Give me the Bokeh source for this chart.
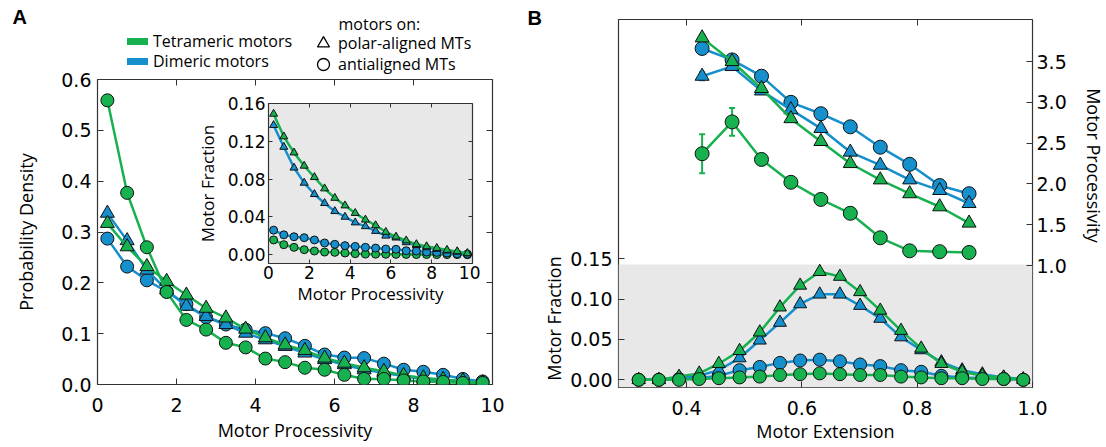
from bokeh.plotting import figure
from bokeh.models import (Range1d, LinearAxis, FixedTicker, PrintfTickFormatter, BoxAnnotation,
                          Label, Legend, LegendItem, Whisker, ColumnDataSource, TeeHead)
from bokeh.embed import file_html
from bokeh.resources import INLINE

GREEN = "#17B150"
BLUE = "#1590CC"
EDGE = "#111111"
FRAME = "#333333"

# ---------------- Panel A data ----------------
proc_x = [0.25, 0.75, 1.25, 1.75, 2.25, 2.75, 3.25, 3.75, 4.25, 4.75,
          5.25, 5.75, 6.25, 6.75, 7.25, 7.75, 8.25, 8.75, 9.25, 9.75]
dens_tet_polar = [0.317, 0.271, 0.232, 0.203, 0.176, 0.150, 0.131, 0.109, 0.092, 0.078,
                  0.067, 0.052, 0.042, 0.033, 0.026, 0.018, 0.013, 0.010, 0.007, 0.003]
dens_tet_anti = [0.559, 0.377, 0.270, 0.182, 0.127, 0.108, 0.082, 0.073, 0.051, 0.044,
                 0.033, 0.029, 0.019, 0.011, 0.011, 0.008, 0.006, 0.005, 0.003, 0.003]
dens_dim_polar = [0.337, 0.283, 0.225, 0.186, 0.154, 0.134, 0.118, 0.101, 0.088, 0.075,
                  0.062, 0.049, 0.039, 0.029, 0.023, 0.016, 0.011, 0.008, 0.006, 0.003]
dens_dim_anti = [0.287, 0.232, 0.205, 0.183, 0.158, 0.132, 0.118, 0.108, 0.101, 0.091,
                 0.076, 0.059, 0.053, 0.052, 0.041, 0.029, 0.025, 0.019, 0.011, 0.006]

# inset (motor fraction vs processivity)
frac_tet_polar = [0.149, 0.125, 0.108, 0.094, 0.082, 0.070, 0.060, 0.052, 0.044, 0.037,
                  0.031, 0.024, 0.019, 0.015, 0.011, 0.0088, 0.007, 0.005, 0.0035, 0.0014]
frac_dim_polar = [0.137, 0.114, 0.092, 0.076, 0.064, 0.0545, 0.046, 0.040, 0.034, 0.030,
                  0.025, 0.020, 0.018, 0.013, 0.010, 0.0077, 0.006, 0.0042, 0.003, 0.0014]
frac_dim_anti = [0.026, 0.021, 0.019, 0.018, 0.0156, 0.0124, 0.011, 0.0096, 0.0088, 0.0078,
                 0.007, 0.006, 0.0057, 0.0042, 0.0039, 0.0028, 0.0025, 0.0018, 0.001, 0.0007]
frac_tet_anti = [0.0156, 0.0106, 0.0078, 0.0053, 0.0039, 0.0028, 0.0025, 0.0018, 0.0011, 0.0007,
                 0.0006, 0.0005, 0.0004, 0.0003, 0.0002, 0.0002, 0.0001, 0.0001, 0.0001, 0.0]

# ---------------- Panel B data ----------------
ext_top = [0.427, 0.479, 0.530, 0.581, 0.633, 0.684, 0.736, 0.787, 0.839, 0.890]
proc_dim_anti = [3.66, 3.52, 3.32, 3.00, 2.86, 2.70, 2.45, 2.24, 1.98, 1.88]
proc_dim_polar = [3.32, 3.44, 3.14, 2.91, 2.68, 2.39, 2.23, 2.05, 1.92, 1.76]
proc_tet_polar = [3.79, 3.50, 3.17, 2.80, 2.52, 2.25, 2.05, 1.88, 1.72, 1.52]
proc_tet_anti = [2.37, 2.76, 2.30, 2.02, 1.81, 1.64, 1.34, 1.18, 1.17, 1.16]
err_dim_anti = [0.06, 0.03, 0.03, 0.02, 0.02, 0.02, 0.02, 0.02, 0.03, 0.05]
err_dim_polar = [0.05, 0.03, 0.03, 0.02, 0.02, 0.02, 0.02, 0.02, 0.02, 0.03]
err_tet_polar = [0.04, 0.03, 0.03, 0.02, 0.02, 0.02, 0.02, 0.02, 0.02, 0.03]
err_tet_anti = [0.24, 0.17, 0.05, 0.02, 0.02, 0.02, 0.03, 0.03, 0.03, 0.06]

ext_bot = [0.317, 0.352, 0.387, 0.422, 0.456, 0.492, 0.527, 0.562, 0.597, 0.631,
           0.666, 0.701, 0.736, 0.772, 0.807, 0.842, 0.878, 0.913, 0.950, 0.984]
fracB_tet_polar = [0.000, 0.000, 0.004, 0.008, 0.020, 0.036, 0.059, 0.090, 0.117, 0.134,
                   0.128, 0.109, 0.086, 0.061, 0.039, 0.020, 0.010, 0.005, 0.003, 0.000]
fracB_dim_polar = [0.000, 0.000, 0.002, 0.005, 0.012, 0.027, 0.049, 0.071, 0.094, 0.106,
                   0.106, 0.092, 0.076, 0.053, 0.037, 0.022, 0.012, 0.007, 0.003, 0.001]
fracB_dim_anti = [0.000, 0.000, 0.001, 0.002, 0.005, 0.012, 0.016, 0.021, 0.024, 0.025,
                  0.023, 0.019, 0.017, 0.012, 0.010, 0.005, 0.003, 0.002, 0.001, 0.000]
fracB_tet_anti = [0.000, 0.000, 0.000, 0.001, 0.002, 0.003, 0.004, 0.006, 0.007, 0.008,
                  0.007, 0.006, 0.006, 0.004, 0.003, 0.002, 0.002, 0.001, 0.001, 0.000]

A_xticks = [0, 2, 4, 6, 8, 10]
A_yticks = [0.0, 0.1, 0.2, 0.3, 0.4, 0.5, 0.6]
ins_yticks = [0.0, 0.04, 0.08, 0.12, 0.16]
B_xticks = [0.4, 0.6, 0.8, 1.0]
B_fticks = [0.0, 0.05, 0.10, 0.15]
B_pticks = [1.0, 1.5, 2.0, 2.5, 3.0, 3.5]


def place(left, top):
    return {"position": "absolute", "left": f"{left}px", "top": f"{top}px"}


def style_axis(ax, ticks, fmt, fs="19px", tick_in=6, standoff=5):
    ax.ticker = FixedTicker(ticks=ticks)
    ax.formatter = PrintfTickFormatter(format=fmt)
    ax.major_tick_in = tick_in
    ax.major_tick_out = 0
    ax.minor_tick_in = 0
    ax.minor_tick_out = 0
    ax.axis_line_color = None
    ax.major_tick_line_color = FRAME
    ax.major_label_text_font = "DejaVu Sans"
    ax.major_label_text_font_size = fs
    ax.major_label_text_color = "black"
    ax.major_label_standoff = standoff
    ax.axis_label_text_font = "Open Sans"
    ax.axis_label_text_font_style = "normal"
    ax.axis_label_text_font_size = "18px"
    ax.axis_label_text_color = "black"


def tick_only_axis(ticks, tick_in=6, **kw):
    return LinearAxis(ticker=FixedTicker(ticks=ticks), major_label_text_color=None,
                      major_tick_in=tick_in, major_tick_out=0, minor_tick_in=0, minor_tick_out=0,
                      axis_line_color=None, major_tick_line_color=FRAME, major_label_standoff=0,
                      **kw)


def series(p, x, y, color, marker, size, lw, **kw):
    p.line(x, y, line_color=color, line_width=lw, **kw)
    p.scatter(x, y, marker=marker, size=size, fill_color=color, line_color=EDGE,
              line_width=1, **kw)


# ---------------- Panel A main ----------------
pA = figure(width=540, height=447, x_range=Range1d(0, 10), y_range=Range1d(0, 0.6),
            output_backend="svg", toolbar_location=None,
            min_border_left=97, min_border_right=48, min_border_top=79, min_border_bottom=63,
            outline_line_color=FRAME, outline_line_width=1.2, styles=place(0, 0))
pA.grid.visible = False
style_axis(pA.xaxis[0], A_xticks, "%d", standoff=13)
style_axis(pA.yaxis[0], A_yticks, "%.1f", standoff=6)
pA.xaxis.axis_label = "Motor Processivity"
pA.yaxis.axis_label = "Probability Density"
pA.xaxis.axis_label_standoff = 3
pA.yaxis.axis_label_standoff = 20
pA.add_layout(tick_only_axis(A_xticks[1:-1]), "above")
pA.add_layout(tick_only_axis(A_yticks[1:-1]), "right")

series(pA, proc_x, dens_dim_anti, BLUE, "circle", 13, 2.5)
series(pA, proc_x, dens_dim_polar, BLUE, "triangle", 14, 2.5)
series(pA, proc_x, dens_tet_polar, GREEN, "triangle", 14, 2.5)
series(pA, proc_x, dens_tet_anti, GREEN, "circle", 13, 2.5)

# ---------------- Panel A inset ----------------
ins = figure(width=288, height=218, x_range=Range1d(0, 10), y_range=Range1d(-0.0093, 0.16),
             output_backend="svg", toolbar_location=None,
             min_border_left=75, min_border_right=8, min_border_top=8, min_border_bottom=50,
             background_fill_color="#E8E8E8", border_fill_color=None,
             outline_line_color=FRAME, outline_line_width=1.2, styles=place(192, 95))
ins.grid.visible = False
style_axis(ins.xaxis[0], A_xticks, "%d", fs="17px", tick_in=4, standoff=2)
style_axis(ins.yaxis[0], ins_yticks, "%.2f", fs="17px", tick_in=4, standoff=3)
ins.xaxis.axis_label = "Motor Processivity"
ins.yaxis.axis_label = "Motor Fraction"
ins.xaxis.axis_label_standoff = 0
ins.yaxis.axis_label_standoff = 6
ins.xaxis.axis_label_text_font_size = "17px"
ins.yaxis.axis_label_text_font_size = "17px"
ins.add_layout(tick_only_axis(A_xticks[1:-1], tick_in=4), "above")
ins.add_layout(tick_only_axis(ins_yticks[1:-1], tick_in=4), "right")

series(ins, proc_x, frac_tet_anti, GREEN, "circle", 8, 2.5)
series(ins, proc_x, frac_dim_anti, BLUE, "circle", 8, 2.5)
series(ins, proc_x, frac_dim_polar, BLUE, "triangle", 8, 2.5)
series(ins, proc_x, frac_tet_polar, GREEN, "triangle", 8, 2.5)

# ---------------- Panel B ----------------
pB = figure(width=566, height=447, x_range=Range1d(0.282, 1.0), y_range=Range1d(-0.0095, 0.4466),
            output_backend="svg", toolbar_location=None,
            min_border_left=78, min_border_right=74, min_border_top=19, min_border_bottom=60,
            outline_line_color=FRAME, outline_line_width=1.2, styles=place(540, 0))
pB.grid.visible = False
pB.extra_y_ranges = {"proc": Range1d(-0.495, 4.015)}
style_axis(pB.xaxis[0], B_xticks, "%.1f", standoff=13)
style_axis(pB.yaxis[0], B_fticks, "%.2f", standoff=6)
pB.xaxis.axis_label = "Motor Extension"
pB.xaxis.axis_label_standoff = 1
right_ax = LinearAxis(y_range_name="proc")
style_axis(right_ax, B_pticks, "%.1f", standoff=4)
pB.add_layout(right_ax, "right")
pB.add_layout(tick_only_axis(B_xticks[:-1]), "above")

pB.add_layout(BoxAnnotation(top=0.143, fill_color="#E8E8E8", fill_alpha=1.0,
                            line_color=None, level="underlay"))


def whisk(x, y, e, color):
    src = ColumnDataSource(dict(base=x, upper=[a + b for a, b in zip(y, e)],
                                lower=[a - b for a, b in zip(y, e)]))
    w = Whisker(source=src, base="base", upper="upper", lower="lower", dimension="height",
                y_range_name="proc", line_color=color, line_width=2,
                upper_head=TeeHead(size=6, line_color=color, line_width=2),
                lower_head=TeeHead(size=6, line_color=color, line_width=2))
    pB.add_layout(w)


whisk(ext_top, proc_dim_anti, err_dim_anti, BLUE)
whisk(ext_top, proc_dim_polar, err_dim_polar, BLUE)
whisk(ext_top, proc_tet_polar, err_tet_polar, GREEN)
whisk(ext_top, proc_tet_anti, err_tet_anti, GREEN)

series(pB, ext_top, proc_dim_anti, BLUE, "circle", 14, 2.5, y_range_name="proc")
series(pB, ext_top, proc_dim_polar, BLUE, "triangle", 14, 2.5, y_range_name="proc")
series(pB, ext_top, proc_tet_polar, GREEN, "triangle", 14, 2.5, y_range_name="proc")
series(pB, ext_top, proc_tet_anti, GREEN, "circle", 14, 2.5, y_range_name="proc")

series(pB, ext_bot, fracB_dim_anti, BLUE, "circle", 13, 2.5)
series(pB, ext_bot, fracB_dim_polar, BLUE, "triangle", 13, 2.5)
series(pB, ext_bot, fracB_tet_polar, GREEN, "triangle", 13, 2.5)
series(pB, ext_bot, fracB_tet_anti, GREEN, "circle", 13, 2.5)

# ---------------- Overlay: panel letters, legends, free axis titles ----------------
H = 447
ov = figure(width=1106, height=H, x_range=Range1d(0, 1106), y_range=Range1d(0, H),
            output_backend="svg", toolbar_location=None, min_border=0,
            x_axis_location=None, y_axis_location=None, outline_line_color=None,
            background_fill_color=None, border_fill_color=None,
            styles={"position": "absolute", "left": "0px", "top": "0px", "pointer-events": "none"})
ov.grid.visible = False


def free_label(x, y, text, size, **kw):
    ov.add_layout(Label(x=x, y=H - y, text=text, text_font_size=size, text_color="black", **kw))


free_label(12, 5, "A", "20px", text_font="Liberation Sans", text_font_style="bold",
           text_baseline="top", text_align="left")
free_label(527, 6, "B", "20px", text_font="Liberation Sans", text_font_style="bold",
           text_baseline="top", text_align="left")
free_label(338, 23, "motors on:", "16px", text_font="Open Sans",
           text_baseline="middle", text_align="left")
free_label(553, 318, "Motor Fraction", "18px", text_font="Open Sans", text_baseline="middle",
           text_align="center", angle=90, angle_units="deg")
free_label(1093, 165, "Motor Processivity", "18px", text_font="Open Sans", text_baseline="middle",
           text_align="center", angle=-90, angle_units="deg")

# legend-only renderers (their points lie outside the visible ranges)
r_tet = ov.line([-100, -90], [-100, -100], line_color=GREEN, line_width=7, line_cap="round")
r_dim = ov.line([-100, -90], [-100, -100], line_color=BLUE, line_width=7, line_cap="round")
r_tri = ov.scatter([-100], [-100], marker="triangle", fill_color=None, line_color="black",
                   line_width=1.3)
r_cir = ov.scatter([-100], [-100], marker="circle", fill_color=None, line_color="black",
                   line_width=1.3)


def add_legend(renderer, label, x, ycenter, gw, gh, standoff):
    lg = Legend(items=[LegendItem(label=label, renderers=[renderer])],
                location=(x, H - ycenter - gh / 2), padding=0, margin=0, spacing=0,
                glyph_width=gw, glyph_height=gh, label_height=gh, label_standoff=standoff,
                label_text_font="Open Sans", label_text_font_size="16px",
                label_text_color="black",
                background_fill_alpha=0, border_line_color=None)
    ov.add_layout(lg)


add_legend(r_tet, "Tetrameric motors", 127, 42, 21, 20, 5)
add_legend(r_dim, "Dimeric motors", 127, 62, 21, 20, 5)
add_legend(r_tri, "polar-aligned MTs", 308, 43, 30, 32, 0)
add_legend(r_cir, "antialigned MTs", 308, 64, 30, 32, 0)

open("out.html", "w").write(file_html([pA, pB, ins, ov], INLINE))
